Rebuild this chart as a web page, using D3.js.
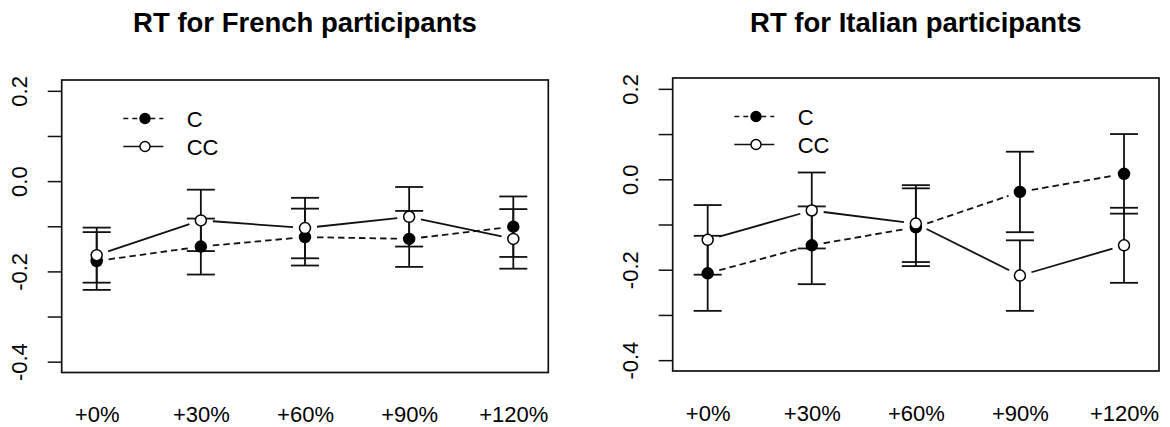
<!DOCTYPE html>
<html>
<head>
<meta charset="utf-8">
<script src="https://cdn.jsdelivr.net/npm/d3@7"></script>
<style>
  html, body { margin: 0; padding: 0; background: #fff; }
  svg { display: block; font-family: "Liberation Sans", Arial, sans-serif; }
</style>
</head>
<body>
<svg id="chart" width="1170" height="427"></svg>
<script>
// ---- data ----
const categories = ["+0%", "+30%", "+60%", "+90%", "+120%"];
const yTickValues = [0.2, 0.1, 0.0, -0.1, -0.2, -0.3, -0.4];
const yTickLabels = ["0.2", "", "0.0", "", "-0.2", "", "-0.4"];
const seriesNames = ["C", "CC"];
const panelTitles = ["RT for French participants", "RT for Italian participants"];

const frenchC     = [-0.177, -0.145, -0.124, -0.128, -0.101];
const frenchCErr  = [0.064, 0.062, 0.063, 0.062, 0.067];
const frenchCC    = [-0.164, -0.087, -0.104, -0.079, -0.128];
const frenchCCErr = [0.061, 0.068, 0.067, 0.066, 0.066];

const italianC     = [-0.208, -0.146, -0.106, -0.028, 0.012];
const italianCErr  = [0.083, 0.086, 0.086, 0.089, 0.088];
const italianCC    = [-0.134, -0.069, -0.098, -0.213, -0.146];
const italianCCErr = [0.077, 0.084, 0.085, 0.078, 0.083];

// ---- layout ----
const svg = d3.select("#chart");
const panels = [
  { title: panelTitles[0], left: 61.7, top: 80, right: 548.3, bottom: 372.5,
    series: [
      { name: seriesNames[0], mean: frenchC, err: frenchCErr, filled: true, dash: "6.5,4" },
      { name: seriesNames[1], mean: frenchCC, err: frenchCCErr, filled: false, dash: null }
    ] },
  { title: panelTitles[1], left: 672.7, top: 78, right: 1159, bottom: 371,
    series: [
      { name: seriesNames[0], mean: italianC, err: italianCErr, filled: true, dash: "6.5,4" },
      { name: seriesNames[1], mean: italianCC, err: italianCCErr, filled: false, dash: null }
    ] }
];

const ink = "#111";

panels.forEach(p => {
  const g = svg.append("g");
  const x = d3.scaleLinear().domain([0.664, 5.336]).range([p.left, p.right]);
  const y = d3.scaleLinear().domain([-0.424, 0.224]).range([p.bottom, p.top]);
  const xi = i => x(i + 1);

  // title
  g.append("text")
    .attr("x", (p.left + p.right) / 2)
    .attr("y", 31.5)
    .attr("text-anchor", "middle")
    .attr("font-weight", "bold")
    .attr("font-size", 27.5)
    .attr("fill", "#000")
    .text(p.title);

  // y axis
  const yAxis = d3.axisLeft(y)
    .tickValues(yTickValues)
    .tickSize(14)
    .tickFormat((d, i) => yTickLabels[i]);
  const ya = g.append("g").attr("transform", `translate(${p.left},0)`).call(yAxis);
  ya.select(".domain").remove();
  ya.selectAll(".tick line").attr("stroke", ink).attr("stroke-width", 1.5);
  ya.selectAll(".tick text")
    .attr("x", null).attr("dy", null)
    .attr("transform", "translate(-34.4,0) rotate(-90)")
    .attr("text-anchor", "middle")
    .attr("font-size", 22)
    .attr("fill", "#000")
    .attr("font-family", "Liberation Sans, Arial, sans-serif");

  // x axis labels
  const xAxis = d3.axisBottom(x)
    .tickValues(d3.range(1, categories.length + 1))
    .tickSize(0)
    .tickFormat((d, i) => categories[i]);
  const xa = g.append("g").attr("transform", `translate(0,${p.bottom})`).call(xAxis);
  xa.select(".domain").remove();
  xa.selectAll(".tick text")
    .attr("y", 49.5).attr("dy", null)
    .attr("font-size", 22)
    .attr("fill", "#000")
    .attr("font-family", "Liberation Sans, Arial, sans-serif");

  // box
  g.append("rect")
    .attr("x", p.left).attr("y", p.top)
    .attr("width", p.right - p.left).attr("height", p.bottom - p.top)
    .attr("fill", "none").attr("stroke", ink).attr("stroke-width", 1.7);

  // lines with gaps (type = "b")
  const gap = 12;
  p.series.forEach(s => {
    for (let i = 0; i < s.mean.length - 1; i++) {
      const x1 = xi(i), y1 = y(s.mean[i]), x2 = xi(i + 1), y2 = y(s.mean[i + 1]);
      const len = Math.hypot(x2 - x1, y2 - y1);
      const ux = (x2 - x1) / len, uy = (y2 - y1) / len;
      g.append("line")
        .attr("x1", x1 + ux * gap).attr("y1", y1 + uy * gap)
        .attr("x2", x2 - ux * gap).attr("y2", y2 - uy * gap)
        .attr("stroke", ink).attr("stroke-width", 1.8)
        .attr("stroke-dasharray", s.dash);
    }
  });

  // error bars
  const cap = 14;
  p.series.forEach(s => {
    s.mean.forEach((m, i) => {
      const cx = xi(i);
      const hi = y(m + s.err[i]), lo = y(m - s.err[i]);
      g.append("line").attr("x1", cx).attr("x2", cx).attr("y1", hi).attr("y2", lo)
        .attr("stroke", ink).attr("stroke-width", 1.8);
      [hi, lo].forEach(yy => {
        g.append("line").attr("x1", cx - cap).attr("x2", cx + cap).attr("y1", yy).attr("y2", yy)
          .attr("stroke", ink).attr("stroke-width", 1.8);
      });
    });
  });

  // points
  p.series.forEach(s => {
    g.selectAll(null).data(s.mean).enter().append("circle")
      .attr("cx", (d, i) => xi(i))
      .attr("cy", d => y(d))
      .attr("r", 5.5)
      .attr("fill", s.filled ? "#000" : "#fff")
      .attr("stroke", "#000")
      .attr("stroke-width", 1.5);
  });

  // legend
  const lgX0 = p.left + 61.6, lgX1 = p.left + 101.6, lgSym = p.left + 83.3, lgText = p.left + 125;
  const rows = [p.top + 38.5, p.top + 66.5];
  p.series.forEach((s, k) => {
    const ry = rows[k];
    g.append("line").attr("x1", lgX0).attr("x2", lgX1).attr("y1", ry).attr("y2", ry)
      .attr("stroke", ink).attr("stroke-width", 1.6).attr("stroke-dasharray", s.dash ? "5,4" : null);
    g.append("circle").attr("cx", lgSym).attr("cy", ry).attr("r", 5)
      .attr("fill", s.filled ? "#000" : "#fff").attr("stroke", "#000").attr("stroke-width", 1.4);
    g.append("text").attr("x", lgText).attr("y", ry + 8)
      .attr("font-size", 22).attr("fill", "#000").text(s.name);
  });
});
</script>
</body>
</html>
